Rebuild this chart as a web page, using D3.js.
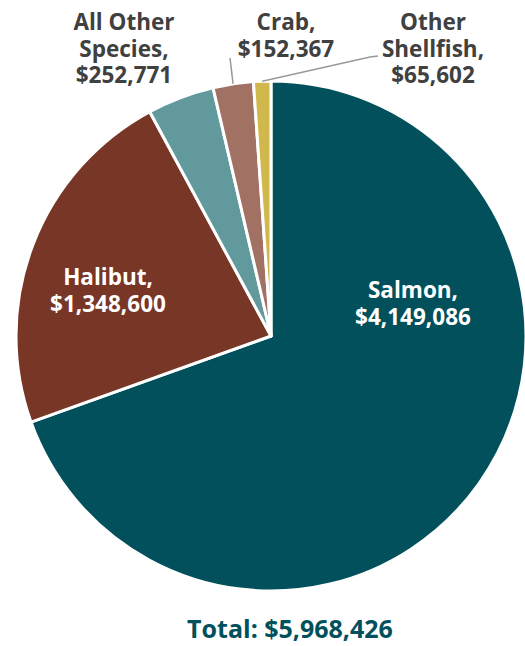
<!DOCTYPE html>
<html><head><meta charset="utf-8">
<script src="https://cdn.jsdelivr.net/npm/d3@7"></script>
<style>html,body{margin:0;padding:0;background:#fff;}svg{display:block;}</style>
</head><body>
<svg id="chart" width="525" height="646"></svg>
<script>
const categories = ["Salmon", "Halibut", "All Other Species", "Crab", "Other Shellfish"];
const values = [4149086, 1348600, 252771, 152367, 65602];
const colors = ["#01505B", "#783627", "#62999D", "#A17163", "#D1B84C"];
const totalLabel = "Total: $5,968,426";

const svg = d3.select("#chart");
const cx = 271, cy = 336, r = 255;
const fmt = d3.format("$,");
const g = svg.append("g").attr("transform", `translate(${cx},${cy})`);
const pie = d3.pie().sort(null).value(d => d.v);
const data = categories.map((c, i) => ({c, v: values[i], col: colors[i]}));
const arcs = pie(data);
const arc = d3.arc().innerRadius(0).outerRadius(r);

g.selectAll("path").data(arcs).enter().append("path")
  .attr("d", arc).attr("fill", d => d.data.col)
  .attr("stroke", "#fff").attr("stroke-width", 3).attr("stroke-linejoin", "round");

const font = "'Segoe UI','Open Sans','Noto Sans',sans-serif";
function label(lines, x, y, fill, size, lh) {
  const t = svg.append("text").attr("x", x).attr("y", y).attr("text-anchor", "middle")
    .attr("font-family", font).attr("font-weight", "bold").attr("font-size", size).attr("fill", fill);
  lines.forEach((l, i) => t.append("tspan").attr("x", x).attr("dy", i === 0 ? 0 : lh).text(l));
}
// inside labels
label([categories[0] + ",", fmt(values[0])], 413, 298, "#fff", 22.5, 26.5);
label([categories[1] + ",", fmt(values[1])], 108, 285, "#fff", 22.5, 27);
// outside labels
label(["All Other", "Species,", fmt(values[2])], 124, 30, "#404040", 22.5, 26.5);
label([categories[3] + ",", fmt(values[3])], 286, 30, "#404040", 22.5, 27);
label(["Other", "Shellfish,", fmt(values[4])], 433, 30, "#404040", 22.5, 26.5);

// leader lines
const pt = (a, rr) => [cx + rr * Math.sin(a), cy - rr * Math.cos(a)];
const crabMid = (arcs[3].startAngle + arcs[3].endAngle) / 2;
const osMid = (arcs[4].startAngle + arcs[4].endAngle) / 2;
const line = d3.line();
let p = pt(crabMid, r);
svg.append("path").attr("d", line([[p[0], p[1]], [230, 58]]))
  .attr("stroke", "#999").attr("stroke-width", 1.5).attr("fill", "none");
p = pt(osMid, r);
svg.append("path").attr("d", line([[p[0], p[1]], [370, 57], [378, 56]]))
  .attr("stroke", "#999").attr("stroke-width", 1.5).attr("fill", "none");

svg.append("text").attr("x", 290).attr("y", 638).attr("text-anchor", "middle")
  .attr("font-family", font).attr("font-weight", "bold").attr("font-size", 25)
  .attr("fill", "#01505B").text(totalLabel);
</script>
</body></html>
